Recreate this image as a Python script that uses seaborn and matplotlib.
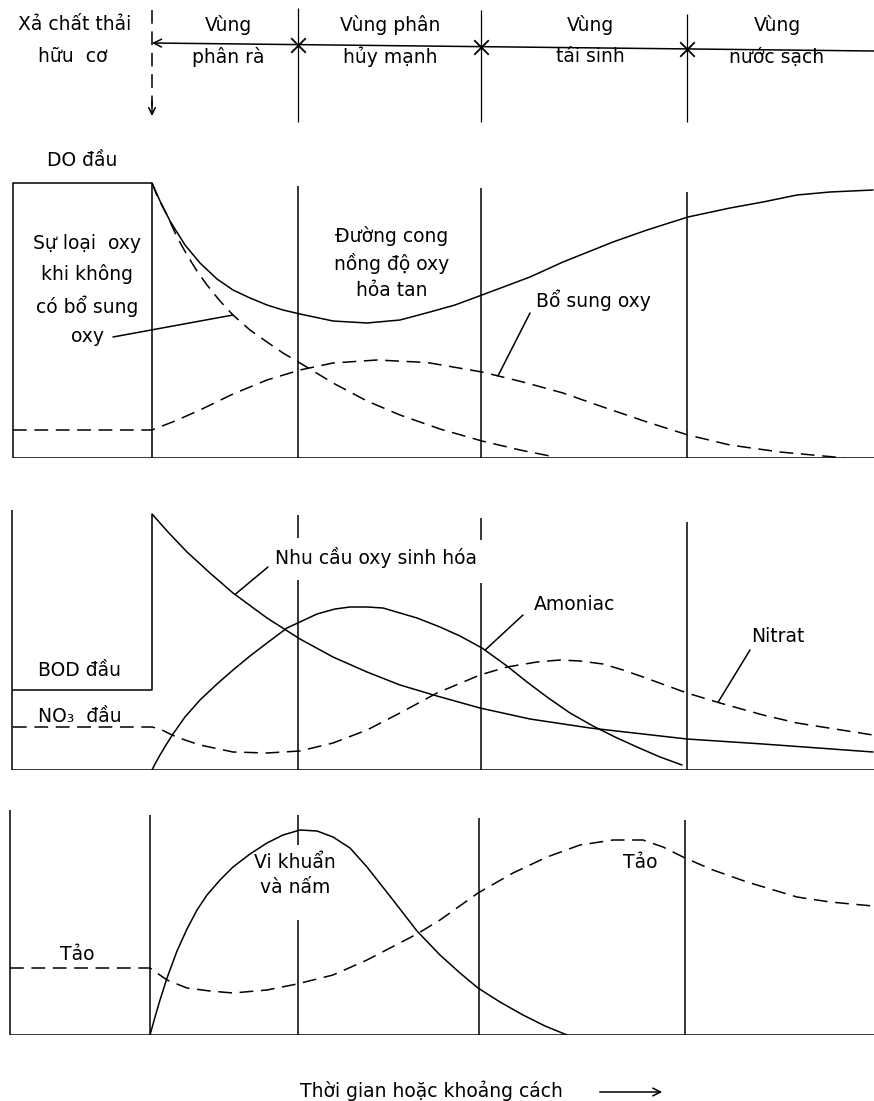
import numpy as np
import matplotlib
matplotlib.use("Agg")
import matplotlib.pyplot as plt
import seaborn as sns

# ---------------- data ----------------
discharge_x = 152
zone_bounds = [298, 481, 687]
x_max = 874
zone_names = ["Vùng\nphân rà", "Vùng phân\nhủy mạnh", "Vùng\ntái sinh", "Vùng\nnước sạch"]
zone_label_x = [228, 390, 590, 777]

# Panel 1 : dissolved oxygen
do_x = [13, 152, 160, 170, 185, 200, 217, 233, 250, 267, 283, 300, 333, 367, 400, 430, 455,
        482, 530, 563, 613, 647, 688, 730, 763, 797, 830, 873]
do_v = [275, 275, 257, 237, 213, 195, 179, 168, 160, 153, 148, 144, 137, 135, 138, 146, 153,
        163, 181, 196, 216, 228, 241, 250, 256, 263, 266, 268]
deox_x = [152, 158, 167, 177, 187, 197, 207, 220, 233, 250, 267, 283, 300, 333, 367, 400, 440,
          482, 520, 555]
deox_v = [275, 260, 243, 221, 203, 187, 173, 157, 143, 128, 116, 105, 95, 75, 57, 43, 29,
          17, 8, 1]
reaer_x = [13, 152, 175, 200, 233, 267, 300, 333, 377, 417, 430, 482, 523, 563, 603, 647, 688,
           730, 780, 845]
reaer_v = [28, 28, 37, 48, 64, 78, 88, 95, 98, 96, 95, 86, 76, 65, 51, 36, 23,
           13, 6, 0]

# Panel 2 : BOD, ammonia, nitrate
bod_x = [13, 152, 152, 168, 187, 210, 233, 267, 300, 333, 367, 400, 437, 480, 530, 590, 687,
         763, 873]
bod_v = [80, 80, 256, 238, 218, 197, 177, 152, 131, 113, 98, 85, 74, 62, 51, 42, 31,
         26, 18]
nh3_x = [152, 155, 160, 166, 173, 185, 200, 217, 233, 250, 267, 287, 317, 335, 350, 367, 383,
         400, 417, 440, 460, 482, 507, 527, 547, 570, 593, 615, 637, 660, 682]
nh3_v = [0, 6, 15, 25, 36, 53, 70, 86, 100, 114, 127, 142, 156, 161, 163, 163, 162,
         157, 152, 143, 134, 122, 104, 88, 73, 57, 44, 33, 23, 13, 5]
no3_x = [13, 152, 160, 172, 185, 200, 233, 267, 300, 333, 367, 400, 437, 480, 507, 537, 560,
         580, 603, 623, 643, 687, 720, 763, 797, 873]
no3_v = [43, 43, 41, 35, 30, 25, 18, 17, 19, 27, 40, 57, 77, 95, 103, 108, 110,
         109, 106, 100, 93, 77, 67, 55, 47, 35]

# Panel 3 : bacteria & fungi, algae
bact_x = [150, 155, 160, 167, 177, 187, 197, 207, 220, 233, 250, 267, 283, 300, 317, 333, 350,
          367, 393, 417, 440, 460, 478, 500, 523, 545, 567]
bact_v = [0, 18, 35, 57, 84, 106, 125, 140, 155, 168, 181, 192, 200, 205, 204, 198, 187,
          168, 135, 104, 80, 62, 47, 33, 20, 9, 0]
algae_x = [10, 150, 157, 167, 187, 210, 233, 267, 297, 333, 367, 417, 440, 478, 513, 547, 580,
           613, 643, 663, 685, 713, 747, 797, 830, 873]
algae_v = [67, 67, 62, 55, 47, 44, 42, 45, 51, 60, 75, 101, 115, 142, 162, 178, 190,
           195, 195, 188, 177, 165, 153, 138, 133, 129]

# ---------------- style ----------------
sns.set_theme(style="white")
plt.rcParams["font.family"] = ["DejaVu Sans", "Noto Sans"]
plt.rcParams["text.color"] = "black"
plt.rcParams["lines.dashed_pattern"] = [9, 5]
LW = 1.1
FS = 13.5
K = "black"

W, H = 874, 1101
fig = plt.figure(figsize=(W / 100, H / 100), dpi=100)
fig.patch.set_facecolor("white")


def panel(top_px, bottom_px):
    ax = fig.add_axes([0, 1 - bottom_px / H, 1, (bottom_px - top_px) / H])
    ax.set_xlim(0, W)
    ax.set_ylim(0, bottom_px - top_px)
    ax.axis("off")
    return ax


def line(ax, x, y, dashed=False):
    sns.lineplot(x=x, y=y, ax=ax, color=K, lw=LW, sort=False, estimator=None,
                 linestyle="--" if dashed else "-")


def leader(ax, start, curve_x, curve_v, at_x):
    yv = float(np.interp(at_x, curve_x, curve_v))
    ax.annotate("", xy=(at_x, yv), xytext=start,
                arrowprops=dict(arrowstyle="-", color=K, lw=LW, shrinkA=0, shrinkB=0))


# ---------------- header ----------------
hd = fig.add_axes([0, 1 - 130 / H, 1, 130 / H])
hd.set_xlim(0, W)
hd.set_ylim(130, 0)
hd.axis("off")
hd.text(75, 25, "Xả chất thải", ha="center", va="center", fontsize=FS)
hd.text(73, 57, "hữu  cơ", ha="center", va="center", fontsize=FS)
for zx, name in zip(zone_label_x, zone_names):
    l1, l2 = name.split("\n")
    hd.text(zx, 25, l1, ha="center", va="center", fontsize=FS)
    hd.text(zx, 57, l2, ha="center", va="center", fontsize=FS)
arrow_x = [discharge_x, x_max]
arrow_y = [43, 51]
hd.annotate("", xy=(discharge_x, 43), xytext=(x_max, 51),
            arrowprops=dict(arrowstyle="->", color=K, lw=LW, shrinkA=0, shrinkB=0,
                            mutation_scale=14))
zb_y = np.interp(zone_bounds, arrow_x, arrow_y)
hd.scatter(zone_bounds, zb_y, marker="x", s=110, color=K, linewidths=1.3, zorder=3)
hd.vlines(discharge_x, 10, 106, color=K, lw=LW, linestyles="--")
hd.annotate("", xy=(discharge_x, 116), xytext=(discharge_x, 100),
            arrowprops=dict(arrowstyle="->", color=K, lw=LW, shrinkA=0, shrinkB=0,
                            mutation_scale=12))
for zx, y0 in zip(zone_bounds, [8, 10, 14]):
    hd.vlines(zx, y0, 122, color=K, lw=0.9)

# ---------------- panel 1 ----------------
a1 = panel(130, 458)
a1.vlines(13, 0, do_v[0], color=K, lw=LW)
a1.vlines(discharge_x, 0, do_v[0], color=K, lw=LW)
for zx, top in zip(zone_bounds, [272, 270, 266]):
    a1.vlines(zx, 0, top, color=K, lw=LW)
a1.hlines(0, 13, x_max, color=K, lw=LW)
line(a1, do_x, do_v)
line(a1, deox_x, deox_v, dashed=True)
line(a1, reaer_x, reaer_v, dashed=True)
a1.text(82, 298, "DO đầu", ha="center", va="center", fontsize=FS)
a1.text(87, 168, "Sự loại  oxy\nkhi không\ncó bổ sung\noxy", ha="center", va="center",
        fontsize=FS, linespacing=1.65)
leader(a1, (113, 121), deox_x, deox_v, 233)
a1.text(392, 195, "Đường cong\nnồng độ oxy\nhỏa tan", ha="center", va="center",
        fontsize=FS, linespacing=1.45)
a1.text(593, 158, "Bổ sung oxy", ha="center", va="center", fontsize=FS)
leader(a1, (530, 145), reaer_x, reaer_v, 498)

# ---------------- panel 2 ----------------
a2 = panel(490, 770)
a2.vlines(12, 0, 260, color=K, lw=LW)
for zx, segs in zip(zone_bounds, [[(0, 190), (232, 255)], [(0, 187), (230, 252)], [(0, 248)]]):
    for s0, s1 in segs:
        a2.vlines(zx, s0, s1, color=K, lw=LW)
a2.hlines(0, 12, x_max, color=K, lw=LW)
line(a2, bod_x, bod_v)
line(a2, nh3_x, nh3_v)
line(a2, no3_x, no3_v, dashed=True)
a2.text(275, 212, "Nhu cầu oxy sinh hóa", ha="left", va="center", fontsize=FS)
leader(a2, (268, 203), bod_x[2:], bod_v[2:], 235)
a2.text(80, 100, "BOD đầu", ha="center", va="center", fontsize=FS)
a2.text(80, 54, "NO₃  đầu", ha="center", va="center", fontsize=FS)
a2.text(575, 165, "Amoniac", ha="center", va="center", fontsize=FS)
leader(a2, (523, 155), nh3_x, nh3_v, 485)
a2.text(778, 134, "Nitrat", ha="center", va="center", fontsize=FS)
leader(a2, (750, 120), no3_x, no3_v, 718)

# ---------------- panel 3 ----------------
a3 = panel(790, 1035)
a3.vlines(10, 0, 225, color=K, lw=LW)
a3.vlines(150, 0, 220, color=K, lw=LW)
for zx, segs in zip([298, 479, 685], [[(0, 115), (190, 220)], [(0, 217)], [(0, 215)]]):
    for s0, s1 in segs:
        a3.vlines(zx, s0, s1, color=K, lw=LW)
a3.hlines(0, 10, x_max, color=K, lw=LW)
line(a3, bact_x, bact_v)
line(a3, algae_x, algae_v, dashed=True)
a3.text(77, 80, "Tảo", ha="center", va="center", fontsize=FS)
a3.text(295, 160, "Vi khuẩn\nvà nấm", ha="center", va="center", fontsize=FS, linespacing=1.45)
a3.text(640, 173, "Tảo", ha="center", va="center", fontsize=FS)

# ---------------- x label ----------------
fig.text(431 / W, 1 - 1091 / H, "Thời gian hoặc khoảng cách", ha="center", va="center",
         fontsize=FS)
fig.add_artist(matplotlib.patches.FancyArrowPatch(
    (597 / W, 1 - 1092 / H), (665 / W, 1 - 1092 / H), transform=fig.transFigure,
    arrowstyle="->", color=K, lw=LW, mutation_scale=14))

fig.savefig("out.png", dpi=100, facecolor="white")
